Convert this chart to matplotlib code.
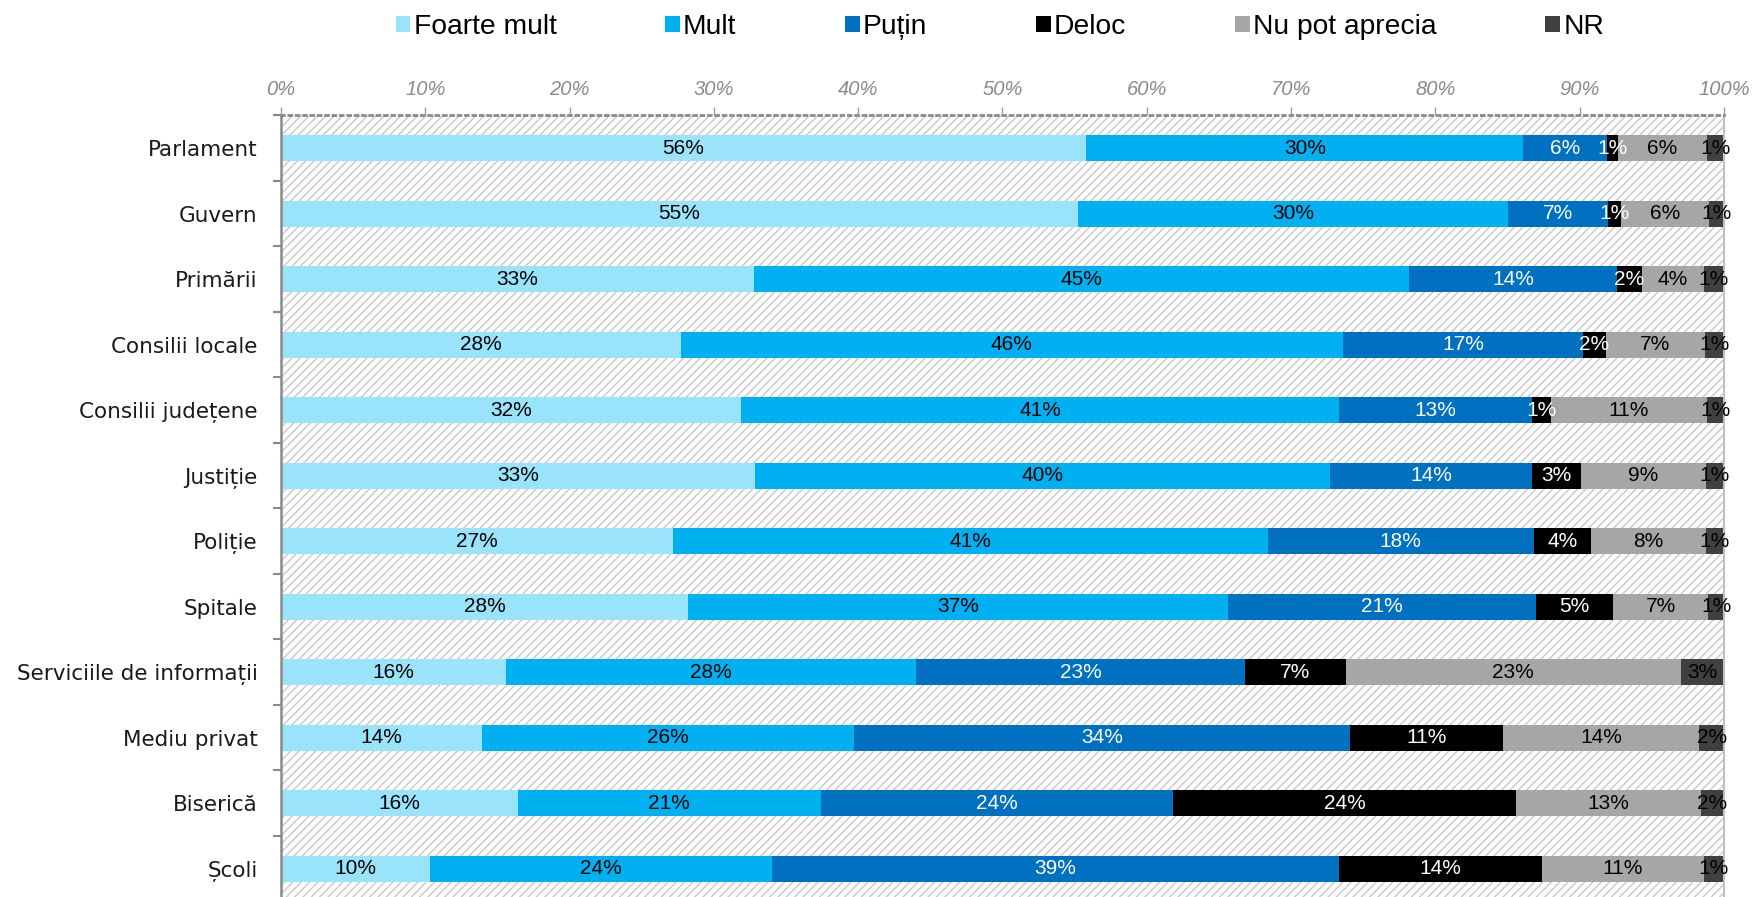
import numpy as np
import matplotlib.pyplot as plt
from matplotlib.patches import Patch, Rectangle
from matplotlib.ticker import PercentFormatter

categories = ['Parlament', 'Guvern', 'Primării', 'Consilii locale', 'Consilii județene',
              'Justiție', 'Poliție', 'Spitale', 'Serviciile de informații',
              'Mediu privat', 'Biserică', 'Școli']

series_names = ['Foarte mult', 'Mult', 'Puțin', 'Deloc', 'Nu pot aprecia', 'NR']

foarte_mult = [55.8, 55.2, 32.8, 27.7, 31.9, 32.85, 27.2, 28.2, 15.6, 13.9, 16.4, 10.3]
mult = [30.3, 29.85, 45.4, 45.9, 41.4, 39.85, 41.2, 37.4, 28.4, 25.8, 21.0, 23.7]
putin = [5.8, 6.9, 14.4, 16.6, 13.4, 14.0, 18.4, 21.4, 22.8, 34.4, 24.4, 39.3]
deloc = [0.75, 0.9, 1.7, 1.6, 1.3, 3.4, 4.0, 5.3, 7.0, 10.6, 23.8, 14.1]
nu_pot = [6.15, 6.1, 4.3, 6.9, 10.8, 8.65, 7.95, 6.6, 23.2, 13.6, 12.8, 11.2]
nr = [1.2, 1.05, 1.4, 1.3, 1.2, 1.25, 1.25, 1.1, 3.0, 1.7, 1.6, 1.4]

colors = ['#99E4FB', '#00B0F0', '#0070C0', '#000000', '#A6A6A6', '#404040']
label_colors = ['black', 'black', 'white', 'white', 'black', 'black']

data = np.array([foarte_mult, mult, putin, deloc, nu_pot, nr])

plt.rcParams['hatch.linewidth'] = 1.0
plt.rcParams['hatch.color'] = '#c8c8c8'

fig = plt.figure(figsize=(17.54, 8.97), dpi=100)
ax = fig.add_axes([0.1602, -0.005, 0.8227, 0.8763])

# hatched background of the plot area
ax.add_patch(Rectangle((0, 0), 1, 1, transform=ax.transAxes, facecolor='white',
                       edgecolor='#c8c8c8', hatch='////', linewidth=0, zorder=0))

y = np.arange(len(categories))
left = np.zeros(len(categories))
for i, name in enumerate(series_names):
    bars = ax.barh(y, data[i], left=left, height=0.4, color=colors[i], label=name, zorder=2)
    for b, v in zip(bars, data[i]):
        ax.text(b.get_x() + b.get_width() / 2, b.get_y() + b.get_height() / 2,
                f'{v:.0f}%', ha='center', va='center', fontsize=15,
                color=label_colors[i], family='Liberation Sans', zorder=3)
    left += data[i]

ax.set_xlim(0, 100)
ax.set_ylim(len(categories) - 0.5, -0.5)

ax.xaxis.tick_top()
ax.set_xticks(np.arange(0, 101, 10))
ax.xaxis.set_major_formatter(PercentFormatter(decimals=0))
ax.tick_params(axis='x', length=6, width=1, color='#a0a0a0', pad=6,
               labelsize=14.5, labelcolor='#8a8a8a')
for t in ax.get_xticklabels():
    t.set_fontstyle('italic')
    t.set_family('Liberation Sans')

ax.set_yticks(y)
ax.set_yticklabels(categories, fontsize=15.5, color='#1a1a1a', family='DejaVu Sans')
ax.set_yticks(np.arange(-0.5, len(categories), 1), minor=True)
ax.tick_params(axis='y', which='major', length=0, pad=17)
ax.tick_params(axis='y', which='minor', length=6, width=1.5, color='#8a8a8a')

ax.spines['left'].set_color('#8a8a8a')
ax.spines['left'].set_linewidth(1.8)
ax.spines['top'].set_color('#8a8a8a')
ax.spines['top'].set_linestyle(':')
ax.spines['top'].set_linewidth(2)
ax.spines['right'].set_color('#c0c0c0')
ax.spines['right'].set_linewidth(1.5)
ax.spines['bottom'].set_visible(False)

handles = [Patch(facecolor=c, edgecolor='none') for c in colors]
fig.legend(handles, series_names, loc='center', bbox_to_anchor=(0.5700, 0.970),
           ncol=6, frameon=False, handlelength=0.52, handleheight=0.52,
           handletextpad=0.12, columnspacing=3.85,
           prop={'family': 'Liberation Sans', 'size': 20.3})

fig.savefig('out.png', dpi=100)
